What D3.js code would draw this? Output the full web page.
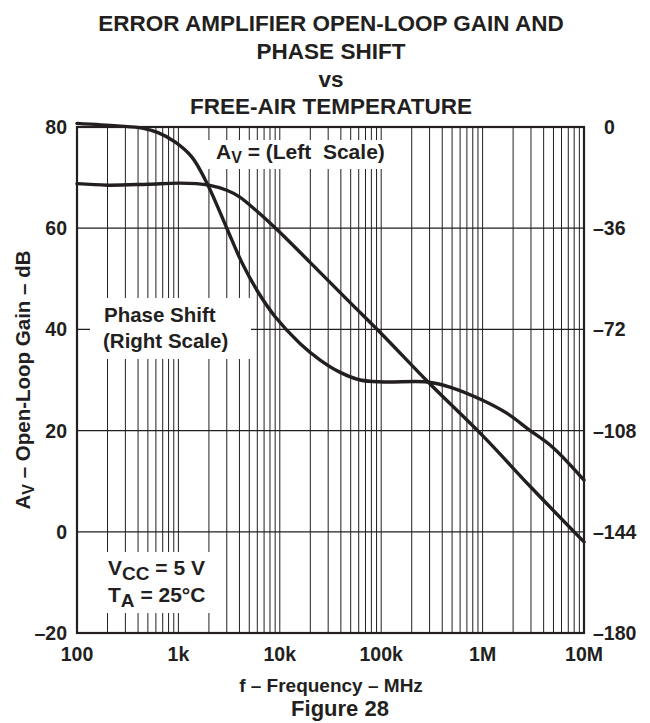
<!DOCTYPE html>
<html>
<head>
<meta charset="utf-8">
<script src="https://cdn.jsdelivr.net/npm/d3@7"></script>
<style>
  body { margin: 0; background: #fff; }
  svg text { font-family: Arial, "Liberation Sans", Helvetica, sans-serif; font-weight: bold; fill: #231f20; }
</style>
</head>
<body>
<svg id="chart" width="650" height="723"></svg>
<script>
// Open-loop gain (left scale, dB) versus frequency (Hz)
const gainFreq = [100, 200, 500, 1000, 1500, 2000, 3000, 4000, 6000, 10000, 20000, 50000, 100000, 300000, 1000000, 3000000, 10000000];
const gainDb   = [68.8, 68.5, 68.7, 68.9, 68.8, 68.5, 67.5, 66.2, 63.3, 59.2, 53.2, 45.2, 39.2, 29.3, 19.0, 8.8, -2.0];

// Phase shift (right scale, degrees) versus frequency (Hz)
const phaseFreq = [100, 250, 440, 630, 925, 1360, 1950, 3000, 4200, 6100, 9000, 15800, 25000, 39000, 62000, 105000, 283000, 475000, 1000000, 1730000, 2900000, 4900000, 10000000];
const phaseDeg  = [1.3, 0.4, -0.4, -2.0, -5.3, -10.7, -20.6, -36, -48, -58.7, -67.5, -77, -82.9, -87.2, -90, -90.7, -90.7, -92.5, -97.2, -101.8, -107.8, -113.9, -125.6];

// Axis ticks and labels
const freqTicks = [100, 1e3, 1e4, 1e5, 1e6, 1e7];
const freqTickLabels = ["100", "1k", "10k", "100k", "1M", "10M"];
const gainTicks = [-20, 0, 20, 40, 60, 80];
const phaseTicks = [-180, -144, -108, -72, -36, 0];

const titleLines = ["ERROR AMPLIFIER OPEN-LOOP GAIN AND", "PHASE SHIFT", "vs", "FREE-AIR TEMPERATURE"];

const svg = d3.select("#chart");
const ink = "#231f20";
const plotL = 77, plotR = 584, plotT = 127, plotB = 633;

const x = d3.scaleLog().domain([100, 1e7]).range([plotL, plotR]);
const yGain = d3.scaleLinear().domain([-20, 80]).range([plotB, plotT]);
const yPhase = d3.scaleLinear().domain([-180, 0]).range([plotB, plotT]);

// Title
svg.append("g").selectAll("text").data(titleLines).join("text")
  .attr("x", 331).attr("y", (d, i) => [31, 59, 87, 114][i])
  .attr("text-anchor", "middle").attr("font-size", 22.5)
  .text(d => d);

// Grid
const grid = svg.append("g");
const minor = x.ticks().filter(v => v > 100 && v < 1e7);
grid.selectAll("line.v").data(minor).join("line").attr("class", "v")
  .attr("x1", d => x(d)).attr("x2", d => x(d))
  .attr("y1", plotT).attr("y2", plotB)
  .attr("stroke", ink).attr("stroke-width", 1);
grid.selectAll("line.h").data(gainTicks.slice(1, -1)).join("line").attr("class", "h")
  .attr("x1", plotL).attr("x2", plotR)
  .attr("y1", d => yGain(d)).attr("y2", d => yGain(d))
  .attr("stroke", ink).attr("stroke-width", 1.2);

// White boxes behind the annotations
const boxes = [
  {x: 206, y: 140, w: 192, h: 29},
  {x: 90, y: 298, w: 161, h: 61},
  {x: 96, y: 552, w: 118, h: 61}
];
svg.append("g").selectAll("rect").data(boxes).join("rect")
  .attr("x", d => d.x).attr("y", d => d.y).attr("width", d => d.w).attr("height", d => d.h)
  .attr("fill", "#fff");

// Frame
svg.append("rect").attr("x", plotL).attr("y", plotT).attr("width", plotR - plotL).attr("height", plotB - plotT)
  .attr("fill", "none").attr("stroke", ink).attr("stroke-width", 2.2);

// Curves
const line = (xs, ys, yScale) => d3.line().curve(d3.curveCatmullRom.alpha(0.5))
  .x((d, i) => x(xs[i])).y((d, i) => yScale(ys[i]))(xs);
svg.append("path").attr("d", line(gainFreq, gainDb, yGain))
  .attr("fill", "none").attr("stroke", ink).attr("stroke-width", 3.4).attr("stroke-linecap", "round");
svg.append("path").attr("d", line(phaseFreq, phaseDeg, yPhase))
  .attr("fill", "none").attr("stroke", ink).attr("stroke-width", 3.4).attr("stroke-linecap", "round");

// Left axis labels
svg.append("g").selectAll("text").data(gainTicks).join("text")
  .attr("x", 67).attr("y", d => yGain(d)).attr("dy", "0.36em")
  .attr("text-anchor", "end").attr("font-size", 19.5)
  .text(d => d < 0 ? "\u2013" + Math.abs(d) : d);

// Right axis labels (digits aligned, dash hangs left)
svg.append("g").selectAll("text").data(phaseTicks).join("text")
  .attr("x", d => d < 0 ? 593 : 604).attr("y", d => yPhase(d)).attr("dy", "0.36em")
  .attr("text-anchor", "start").attr("font-size", 19.5)
  .text(d => d < 0 ? "\u2013" + Math.abs(d) : d);

// Bottom axis labels
svg.append("g").selectAll("text").data(freqTicks).join("text")
  .attr("x", d => x(d)).attr("y", 661)
  .attr("text-anchor", "middle").attr("font-size", 19.5)
  .text((d, i) => freqTickLabels[i]);

// Axis titles
svg.append("text").attr("x", 331).attr("y", 692).attr("text-anchor", "middle").attr("font-size", 19)
  .text("f \u2013 Frequency \u2013 MHz");
svg.append("text").attr("x", 340).attr("y", 716).attr("text-anchor", "middle").attr("font-size", 22)
  .text("Figure 28");

const yTitle = svg.append("text").attr("transform", "translate(30,380) rotate(-90)")
  .attr("text-anchor", "middle").attr("font-size", 20.5);
yTitle.append("tspan").text("A");
yTitle.append("tspan").attr("font-size", 16).attr("dy", 4).text("V");
yTitle.append("tspan").attr("dy", -4).text(" \u2013 Open-Loop Gain \u2013 dB");

// Annotations
const av = svg.append("text").attr("x", 216).attr("y", 159).attr("font-size", 21);
av.append("tspan").text("A");
av.append("tspan").attr("font-size", 16).attr("dy", 4).text("V");
av.append("tspan").attr("dy", -4).text(" = (Left\u00a0 Scale)");

svg.append("text").attr("x", 104).attr("y", 322).attr("font-size", 20.5).text("Phase Shift");
svg.append("text").attr("x", 103).attr("y", 348).attr("font-size", 20.5).text("(Right Scale)");

const vcc = svg.append("text").attr("x", 108).attr("y", 575).attr("font-size", 21);
vcc.append("tspan").text("V");
vcc.append("tspan").attr("font-size", 19).attr("dy", 5).text("CC");
vcc.append("tspan").attr("dy", -5).text(" = 5 V");
const ta = svg.append("text").attr("x", 108).attr("y", 602).attr("font-size", 21);
ta.append("tspan").text("T");
ta.append("tspan").attr("font-size", 19).attr("dy", 5).text("A");
ta.append("tspan").attr("dy", -5).text(" = 25\u00b0C");
</script>
</body>
</html>
